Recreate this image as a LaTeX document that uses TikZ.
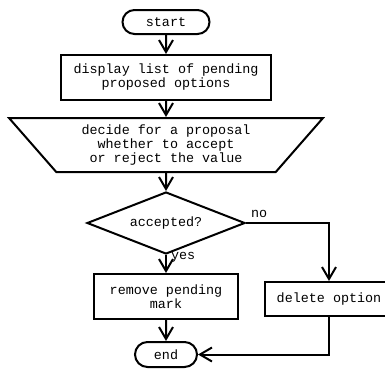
\documentclass[tikz,border=0pt]{standalone}
\usepackage{fontspec}
\setmonofont{Liberation Mono}
\usetikzlibrary{shapes.geometric, shapes.misc, arrows.meta}

\begin{document}
\begin{tikzpicture}[x=0.5pt, y=-0.5pt,
        every node/.style={font=\ttfamily\fontsize{6.7}{7}\selectfont, align=center},
        flow/.style={line width=1pt, -{Straight Barb[length=6pt, width=7pt, line width=1pt]}},
        termbox/.style={draw, line width=1pt, rounded rectangle, inner sep=0pt},
        procbox/.style={draw, line width=1pt, rectangle, inner sep=0pt},
        manbox/.style={draw, line width=1pt, trapezium, shape border rotate=180,
            trapezium angle=40.6, trapezium stretches body, inner sep=0pt},
        choice/.style={draw, line width=1pt, diamond, aspect=2.5, inner sep=0pt}]

        % --- 描画範囲 ---
        \useasboundingbox (0,0) rectangle (385,370);

        % --- ノードの配置 ---
        \node[termbox, minimum width=43.5pt, minimum height=12pt] (start) at (166,22) {start};
        \node[procbox, minimum width=105pt, minimum height=22.5pt] (show) at (166,77.5)
            {display list of pending\\proposed options};
        \node[manbox, minimum width=157pt, minimum height=27pt] (decide) at (166,145)
            {decide for a proposal\\whether to accept\\or reject the value};
        \node[choice, minimum width=79pt, minimum height=31pt] (accepted) at (166,223) {accepted?};
        \node[procbox, minimum width=72pt, minimum height=22.5pt] (remove) at (166,296.5)
            {remove pending\\mark};
        \node[procbox, minimum width=64pt, minimum height=17pt] (delete) at (329,299) {delete option};
        \node[termbox, minimum width=31pt, minimum height=12.5pt] (end) at (166,354.5) {end};

        % --- 矢印の描画 ---
        \draw[flow] (start) -- (show);
        \draw[flow] (show) -- (decide);
        \draw[flow] (decide) -- (accepted);
        \draw[flow] (accepted) -- node[pos=0.15, right, inner sep=2pt] {yes} (remove);
        \draw[flow] (accepted.east) node[above right, inner sep=2pt] {no} -| (delete.north);
        \draw[flow] (remove) -- (end);
        \draw[flow] (delete.south) |- (end.east);

    \end{tikzpicture}
\end{document}
